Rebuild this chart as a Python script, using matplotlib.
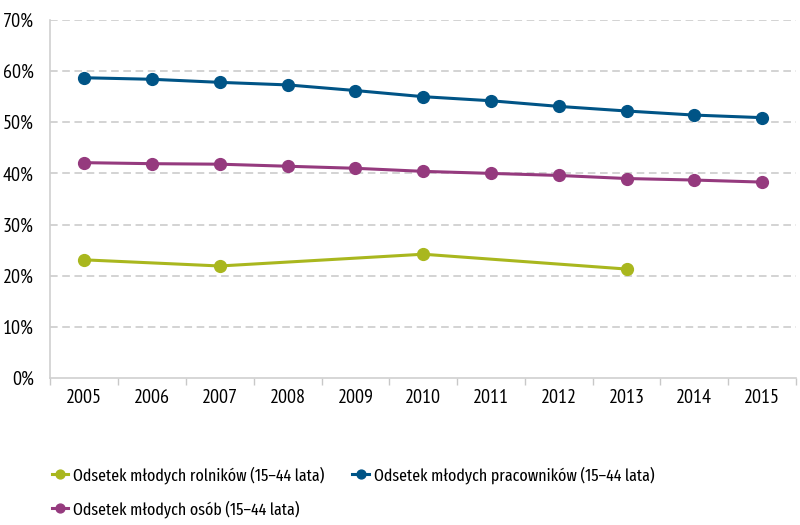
import matplotlib.pyplot as plt
import numpy as np

# values (percent)
years = ['2005', '2006', '2007', '2008', '2009', '2010', '2011', '2012', '2013', '2014', '2015']
workers = [58.7, 58.4, 57.8, 57.3, 56.2, 55.0, 54.2, 53.1, 52.2, 51.4, 50.9]
people = [42.1, 41.9, 41.8, 41.4, 41.0, 40.4, 40.0, 39.6, 39.0, 38.7, 38.3]
farmer_years = ['2005', '2007', '2010', '2013']
farmers = [23.1, 21.9, 24.2, 21.3]

lab_farmers = 'Odsetek młodych rolników (15–44 lata)'
lab_people = 'Odsetek młodych osób (15–44 lata)'
lab_workers = 'Odsetek młodych pracowników (15–44 lata)'

c_green = '#a9b71e'
c_purple = '#953a7e'
c_blue = '#005486'

plt.rcParams['font.family'] = ['PT Sans Narrow', 'DejaVu Sans']

fig = plt.figure(figsize=[8, 5.25], dpi=100)
ax = fig.add_axes([0.063, 0.28, 0.932, 0.682])

x = np.arange(len(years))
xf = [years.index(y) for y in farmer_years]

h1, = ax.plot(xf, farmers, color=c_green, lw=2.2, marker='o', ms=8.5, label=lab_farmers, zorder=3)
h2, = ax.plot(x, people, color=c_purple, lw=2.2, marker='o', ms=8.5, label=lab_people, zorder=3)
h3, = ax.plot(x, workers, color=c_blue, lw=2.2, marker='o', ms=8.5, label=lab_workers, zorder=3)

ax.set_xlim(-0.5, len(years) - 0.5)
ax.set_ylim(0, 70)
ax.set_yticks(np.arange(0, 71, 10))
ax.set_yticklabels(['%d%%' % v for v in range(0, 71, 10)])
ax.set_xticks(x)
ax.set_xticklabels(years)
# category boundary ticks
ax.set_xticks(np.arange(-0.5, len(years), 1), minor=True)
ax.tick_params(axis='x', which='major', length=0, labelsize=14.5, pad=8)
ax.tick_params(axis='x', which='minor', length=5, color='#c8c8c8', width=1)
ax.tick_params(axis='y', length=0, labelsize=14.5, pad=12)

for v in range(10, 71, 10):
    ax.axhline(v, color='#c8c8c8', lw=1.1, ls=(0, (5, 3)), zorder=1)

for s in ['top', 'right']:
    ax.spines[s].set_visible(False)
ax.spines['left'].set_color('#d0d0d0')
ax.spines['bottom'].set_color('#d0d0d0')
ax.spines['left'].set_linewidth(1.2)
ax.spines['bottom'].set_linewidth(1.2)

fig.legend(handles=[h1, h2, h3], loc='lower left', bbox_to_anchor=(0.045, -0.016), ncol=2,
           frameon=False, handlelength=0.95, markerscale=0.75,
           prop={'family': ['Fira Sans Extra Condensed', 'DejaVu Sans'], 'size': 12.5},
           columnspacing=1.6, labelspacing=0.95, handletextpad=0.3)

plt.savefig('out.png', dpi=100)
